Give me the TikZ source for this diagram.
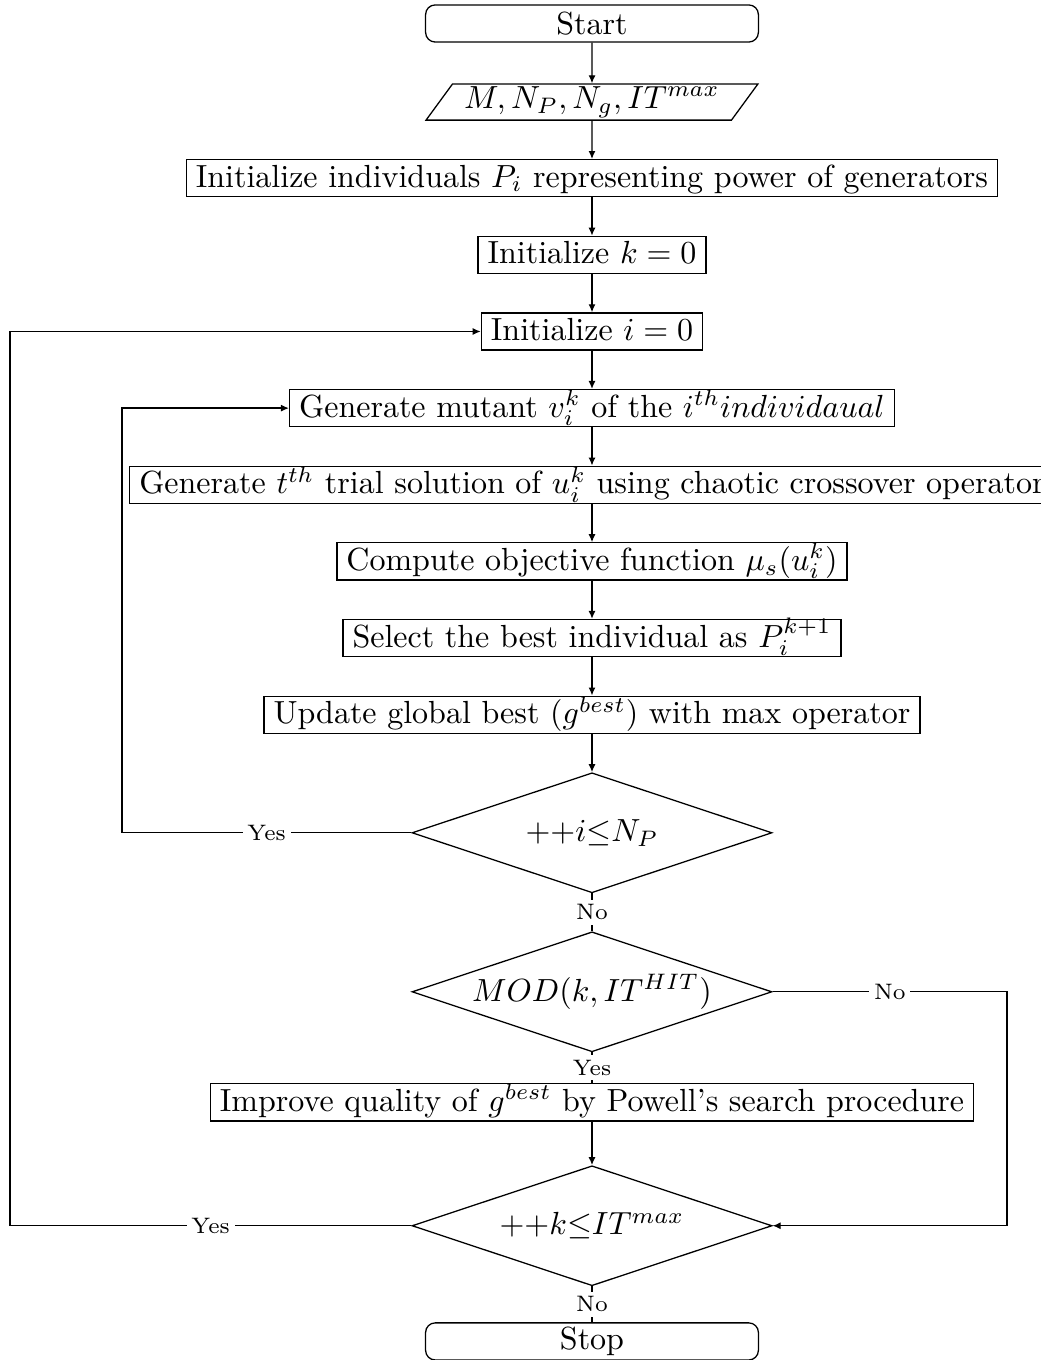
\documentclass[tikz,border=0pt]{standalone}
\usepackage{amsmath,amssymb}
\usetikzlibrary{arrows.meta,positioning,shapes.geometric}

\begin{document}
\begin{tikzpicture}[
  node distance=11.95pt,
  every node/.style={font=\normalsize},
  terminal/.style={draw,rounded corners=3pt,minimum width=104pt,minimum height=11.6pt,inner sep=0pt},
  io/.style={draw,trapezium,trapezium left angle=52,trapezium right angle=128,trapezium stretches=true,minimum width=104pt,minimum height=11.3pt,inner sep=0pt},
  process/.style={draw,inner xsep=3pt,inner ysep=0.6pt,text height=8pt,text depth=2.4pt},
  decision/.style={draw,diamond,aspect=3,minimum width=112.5pt,minimum height=37.5pt,inner sep=0pt},
  arrow/.style={-{Latex[length=2.5pt,width=2.2pt]}},
  lbl/.style={font=\scriptsize,fill=white,inner sep=1.5pt}
]
\useasboundingbox (-185pt,7.34pt) rectangle (140pt,-417.66pt);
\node[terminal] (start) {Start};
\node[io,below=12.7pt of start] (input) {$M, N_P, N_g, IT^{max}$};
\node[process,below=of input] (initp) {Initialize individuals $P_i$ representing power of generators};
\node[process,below=of initp] (initk) {Initialize $k=0$};
\node[process,below=of initk] (initi) {Initialize $i=0$};
\node[process,below=of initi] (mutant) {Generate mutant $v_i^k$ of the $i^{th}individaual$};
\node[process,below=of mutant] (trial) {Generate $t^{th}$ trial solution of $u_i^k$ using chaotic crossover operator};
\node[process,below=of trial] (objective) {Compute objective function $\mu_s(u_i^k)$};
\node[process,below=of objective] (select) {Select the best individual as $P_i^{k+1}$};
\node[process,below=of select] (update) {Update global best ($g^{best}$) with max operator};
\node[decision,below=of update] (loopi) {${+}{+}i{\leq}N_P$};
\node[decision,below=11.8pt of loopi] (hit) {$MOD(k,IT^{HIT})$};
\node[process,below=9.6pt of hit] (powell) {Improve quality of $g^{best}$ by Powell's search procedure};
\node[decision,below=13.6pt of powell] (loopk) {${+}{+}k{\leq}IT^{max}$};
\node[terminal,below=11.2pt of loopk] (stop) {Stop};
% x positions of the return lines
\coordinate (backi) at (-146.9pt,0);
\coordinate (backk) at (-181.9pt,0);
\coordinate (skip) at (129.7pt,0);
\draw[arrow] (start) -- (input);
\draw[arrow] (input) -- (initp);
\draw[arrow] (initp) -- (initk);
\draw[arrow] (initk) -- (initi);
\draw[arrow] (initi) -- (mutant);
\draw[arrow] (mutant) -- (trial);
\draw[arrow] (trial) -- (objective);
\draw[arrow] (objective) -- (select);
\draw[arrow] (select) -- (update);
\draw[arrow] (update) -- (loopi);
\draw (loopi) -- node[lbl]{No} (hit);
\draw (hit) -- node[lbl]{Yes} (powell);
\draw[arrow] (powell) -- (loopk);
\draw (loopk) -- node[lbl]{No} (stop);
\draw[arrow] (loopi.west) -- node[lbl]{Yes} (loopi.west -| backi) |- (mutant.west);
\draw[arrow] (loopk.west) -- node[lbl]{Yes} (loopk.west -| backk) |- (initi.west);
\draw[arrow] (hit.east) -- node[lbl]{No} (hit.east -| skip) |- (loopk.east);
\end{tikzpicture}
\end{document}
